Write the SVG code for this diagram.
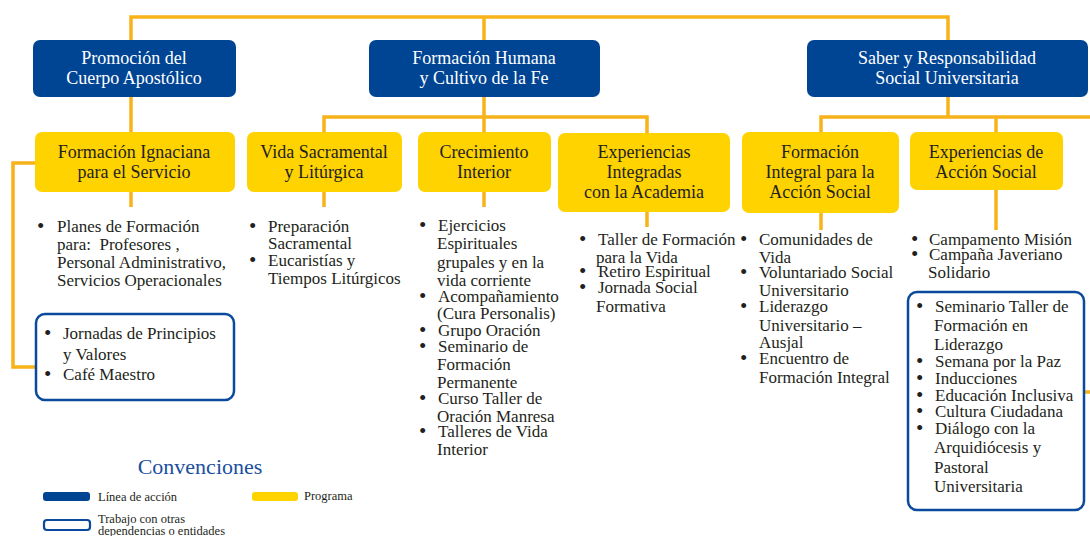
<svg xmlns="http://www.w3.org/2000/svg" width="1090" height="536" viewBox="0 0 1090 536">
<style>
.line{fill:#004494;}
.prog{fill:#FFD300;}
.work{fill:#FFFFFF;stroke:#0A4A9C;stroke-width:2.5;}
.conn{fill:none;stroke:#F8B31A;stroke-width:3.5;stroke-linejoin:miter;}
.hw{font-family:"Liberation Serif","Times New Roman",serif;font-size:18px;fill:#FFFFFF;text-anchor:middle;}
.hy{font-family:"Liberation Serif","Times New Roman",serif;font-size:18px;fill:#231F20;text-anchor:middle;}
.b{font-family:"Liberation Serif","Times New Roman",serif;font-size:17px;fill:#231F20;}
.d{font-family:"Liberation Serif","Times New Roman",serif;font-size:21px;fill:#231F20;}
.lg{font-family:"Liberation Serif","Times New Roman",serif;font-size:12.5px;fill:#231F20;}
.ttl{font-family:"Liberation Serif","Times New Roman",serif;font-size:22px;fill:#1A4FA0;text-anchor:middle;}
</style>
<rect width="1090" height="536" fill="#FFFFFF"/>
<g id="connectors" class="conn">
<path d="M131,40 V17 H948 V40"/>
<path d="M484,17 V40"/>
<path d="M131,97 V132"/>
<path d="M484,97 V132"/>
<path d="M324,132 V117 H647 V133"/>
<path d="M948,97 V117"/>
<path d="M821,132 V117 H1090"/>
<path d="M996,117 V132"/>
<path d="M131,192 V207"/>
<path d="M324,192 V207"/>
<path d="M484,192 V207"/>
<path d="M647,212 V227"/>
<path d="M821,213 V230"/>
<path d="M996,190 V230"/>
<path d="M35,163 H13 V367 H36"/>
<path d="M1084,392 H1090"/>
</g>
<g id="promocion">
<rect class="line" x="33" y="40" width="203" height="57" rx="7"/>
<text class="hw" x="134" y="64">Promoción del</text>
<text class="hw" x="134" y="84">Cuerpo Apostólico</text>
</g>
<g id="formacion-humana">
<rect class="line" x="369" y="40" width="231" height="57" rx="7"/>
<text class="hw" x="484" y="64">Formación Humana</text>
<text class="hw" x="484" y="84">y Cultivo de la Fe</text>
</g>
<g id="saber">
<rect class="line" x="807" y="40" width="281" height="57" rx="7"/>
<text class="hw" x="947" y="64">Saber y Responsabilidad</text>
<text class="hw" x="947" y="84">Social Universitaria</text>
</g>
<g id="formacion-ignaciana">
<rect class="prog" x="35" y="132" width="200" height="60" rx="7"/>
<text class="hy" x="134" y="158">Formación Ignaciana</text>
<text class="hy" x="134" y="178">para el Servicio</text>
</g>
<g id="vida-sacramental">
<rect class="prog" x="247" y="132" width="155" height="60" rx="7"/>
<text class="hy" x="324" y="158">Vida Sacramental</text>
<text class="hy" x="324" y="178">y Litúrgica</text>
</g>
<g id="crecimiento">
<rect class="prog" x="418" y="132" width="133" height="60" rx="7"/>
<text class="hy" x="484" y="158">Crecimiento</text>
<text class="hy" x="484" y="178">Interior</text>
</g>
<g id="experiencias-integradas">
<rect class="prog" x="558" y="133" width="172" height="79" rx="7"/>
<text class="hy" x="644" y="158">Experiencias</text>
<text class="hy" x="644" y="178">Integradas</text>
<text class="hy" x="644" y="198">con la Academia</text>
</g>
<g id="formacion-integral">
<rect class="prog" x="742" y="132" width="157" height="81" rx="7"/>
<text class="hy" x="820" y="158">Formación</text>
<text class="hy" x="820" y="178">Integral para la</text>
<text class="hy" x="820" y="198">Acción Social</text>
</g>
<g id="experiencias-accion">
<rect class="prog" x="910" y="132" width="153" height="58" rx="7"/>
<text class="hy" x="986" y="158">Experiencias de</text>
<text class="hy" x="986" y="178">Acción Social</text>
</g>
<g id="lista-ignaciana">
<text class="d" x="37" y="233">•</text>
<text class="b" x="57" y="232">Planes de Formación</text>
<text class="b" x="57" y="250" style="white-space:pre">para:  Profesores ,</text>
<text class="b" x="57" y="268">Personal Administrativo,</text>
<text class="b" x="57" y="286">Servicios Operacionales</text>
</g>
<g id="trabajo-ignaciana">
<rect class="work" x="36" y="314" width="198" height="86" rx="9"/>
<text class="d" x="44" y="340">•</text>
<text class="b" x="63" y="339">Jornadas de Principios</text>
<text class="b" x="63" y="360">y Valores</text>
<text class="d" x="44" y="381">•</text>
<text class="b" x="63" y="380">Café Maestro</text>
</g>
<g id="lista-sacramental">
<text class="d" x="249" y="233">•</text>
<text class="b" x="268" y="232">Preparación</text>
<text class="b" x="268" y="249">Sacramental</text>
<text class="d" x="249" y="267">•</text>
<text class="b" x="268" y="266">Eucaristías y</text>
<text class="b" x="268" y="284">Tiempos Litúrgicos</text>
</g>
<g id="lista-crecimiento">
<text class="d" x="419" y="232">•</text>
<text class="b" x="438" y="231">Ejercicios</text>
<text class="b" x="437" y="249">Espirituales</text>
<text class="b" x="437" y="268">grupales y en la</text>
<text class="b" x="437" y="286">vida corriente</text>
<text class="d" x="419" y="303">•</text>
<text class="b" x="438" y="302">Acompañamiento</text>
<text class="b" x="437" y="319">(Cura Personalis)</text>
<text class="d" x="419" y="337">•</text>
<text class="b" x="438" y="336">Grupo Oración</text>
<text class="d" x="419" y="353">•</text>
<text class="b" x="438" y="352">Seminario de</text>
<text class="b" x="437" y="370">Formación</text>
<text class="b" x="437" y="388">Permanente</text>
<text class="d" x="419" y="405">•</text>
<text class="b" x="438" y="404">Curso Taller de</text>
<text class="b" x="437" y="422">Oración Manresa</text>
<text class="d" x="419" y="438">•</text>
<text class="b" x="438" y="437">Talleres de Vida</text>
<text class="b" x="437" y="455">Interior</text>
</g>
<g id="lista-academia">
<text class="d" x="579" y="246">•</text>
<text class="b" x="598" y="245">Taller de Formación</text>
<text class="b" x="596" y="263">para la Vida</text>
<text class="d" x="579" y="278">•</text>
<text class="b" x="598" y="277">Retiro Espiritual</text>
<text class="d" x="579" y="294">•</text>
<text class="b" x="598" y="293">Jornada Social</text>
<text class="b" x="596" y="312">Formativa</text>
</g>
<g id="lista-integral">
<text class="d" x="740" y="246">•</text>
<text class="b" x="759" y="245">Comunidades de</text>
<text class="b" x="759" y="263">Vida</text>
<text class="d" x="740" y="279">•</text>
<text class="b" x="759" y="278">Voluntariado Social</text>
<text class="b" x="759" y="296">Universitario</text>
<text class="d" x="740" y="313">•</text>
<text class="b" x="759" y="312">Liderazgo</text>
<text class="b" x="759" y="331">Universitario –</text>
<text class="b" x="759" y="348">Ausjal</text>
<text class="d" x="740" y="365">•</text>
<text class="b" x="759" y="364">Encuentro de</text>
<text class="b" x="759" y="383">Formación Integral</text>
</g>
<g id="lista-accion">
<text class="d" x="911" y="246">•</text>
<text class="b" x="929" y="245">Campamento Misión</text>
<text class="d" x="911" y="261">•</text>
<text class="b" x="929" y="260">Campaña Javeriano</text>
<text class="b" x="928" y="278">Solidario</text>
</g>
<g id="trabajo-accion">
<rect class="work" x="908" y="292" width="176" height="218" rx="9"/>
<text class="d" x="916" y="313">•</text>
<text class="b" x="935" y="312">Seminario Taller de</text>
<text class="b" x="934" y="331">Formación en</text>
<text class="b" x="934" y="350">Liderazgo</text>
<text class="d" x="916" y="368">•</text>
<text class="b" x="935" y="367">Semana por la Paz</text>
<text class="d" x="916" y="385">•</text>
<text class="b" x="935" y="384">Inducciones</text>
<text class="d" x="916" y="402">•</text>
<text class="b" x="935" y="401">Educación Inclusiva</text>
<text class="d" x="916" y="418">•</text>
<text class="b" x="935" y="417">Cultura Ciudadana</text>
<text class="d" x="916" y="435">•</text>
<text class="b" x="935" y="434">Diálogo con la</text>
<text class="b" x="934" y="453">Arquidiócesis y</text>
<text class="b" x="934" y="473">Pastoral</text>
<text class="b" x="934" y="492">Universitaria</text>
</g>
<g id="leyenda">
<text class="ttl" x="200" y="474">Convenciones</text>
<rect class="line" x="43" y="492" width="47" height="9" rx="3"/>
<text class="lg" x="98" y="501">Línea de acción</text>
<rect class="prog" x="252" y="492" width="46" height="9" rx="3"/>
<text class="lg" x="304" y="500">Programa</text>
<rect x="44" y="520" width="46" height="10" rx="3" fill="#FFFFFF" stroke="#0A4A9C" stroke-width="2.2"/>
<text class="lg" x="98" y="523">Trabajo con otras</text>
<text class="lg" x="98" y="535">dependencias o entidades</text>
</g>
</svg>
